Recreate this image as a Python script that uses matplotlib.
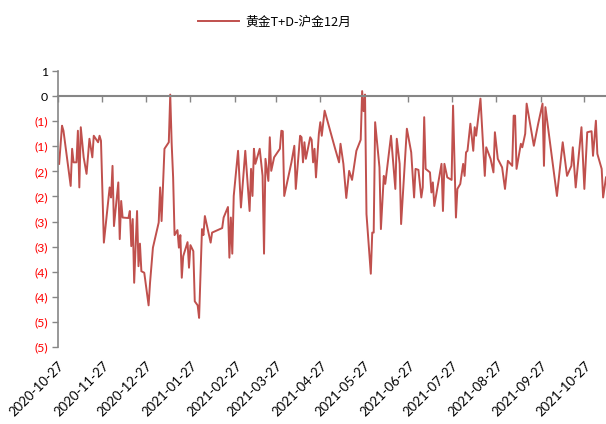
import math
import numpy as np
import pandas as pd
import matplotlib
matplotlib.use('Agg')
import matplotlib.pyplot as plt
import matplotlib.dates as mdates

plt.rcParams['font.family'] = ['Lato', 'Noto Sans CJK SC', 'DejaVu Sans']

# spread series: days since 2020-10-27 and value (yuan/g)
start = pd.Timestamp('2020-10-27')
end = pd.Timestamp('2021-11-11')
day_offset = [1, 3, 4, 9, 10, 11, 13, 14, 15, 16, 18, 20, 22, 24, 25, 28, 29, 30, 32, 36,
              37, 38, 39, 42, 43, 44, 45, 49, 50, 51, 52, 53, 55, 56, 57, 58, 60, 63, 64, 66,
              70, 71, 72, 74, 77, 78, 79, 80, 81, 83, 84, 85, 86, 87, 90, 91, 92, 94, 95, 97,
              98, 100, 101, 102, 106, 107, 114, 115, 118, 119, 120, 121, 122, 125, 127, 130, 133, 134, 135, 136,
              137, 140, 142, 143, 144, 146, 147, 148, 150, 154, 155, 156, 157, 162, 164, 165, 168, 169, 170, 171,
              172, 175, 176, 177, 178, 179, 181, 182, 183, 185, 192, 195, 196, 198, 200, 202, 204, 207, 210, 211,
              212, 213, 214, 217, 218, 219, 220, 223, 224, 226, 227, 231, 234, 235, 237, 238, 242, 245, 247, 248,
              250, 252, 253, 254, 255, 258, 259, 260, 261, 266, 267, 268, 270, 273, 274, 276, 277, 279, 281, 282,
              283, 284, 286, 288, 289, 290, 293, 296, 297, 300, 302, 303, 305, 308, 310, 312, 315, 316, 317, 318,
              321, 322, 324, 325, 330, 333, 336, 337, 338, 346, 350, 353, 356, 357, 359, 363, 365, 367, 370, 371,
              373, 374, 377, 378, 380]
spread = [-1.35, -0.59, -0.69, -1.79, -1.05, -1.32, -1.32, -0.69, -1.82, -0.62, -1.22, -1.55, -0.85, -1.22, -0.79, -0.92, -0.79, -0.89, -2.92, -1.82,
          -2.02, -1.39, -2.59, -1.72, -2.85, -2.09, -2.42, -2.43, -2.29, -2.99, -2.45, -3.72, -2.29, -3.39, -2.94, -3.49, -3.52, -4.17, -3.72, -3.02,
          -2.52, -1.82, -2.49, -1.05, -0.92, 0.03, -0.95, -1.62, -2.77, -2.67, -3.02, -2.77, -3.62, -3.19, -2.91, -3.42, -2.97, -3.09, -4.09, -4.17,
          -4.42, -2.65, -2.77, -2.39, -2.92, -2.72, -2.63, -2.42, -2.21, -3.22, -2.42, -3.14, -1.99, -1.09, -2.22, -1.09, -2.29, -1.45, -1.99, -1.05,
          -1.35, -1.05, -1.59, -3.14, -1.25, -1.69, -0.82, -1.49, -1.22, -1.05, -0.69, -0.70, -1.99, -1.32, -0.99, -1.85, -0.79, -0.82, -1.32, -0.92,
          -1.25, -0.82, -0.87, -1.32, -1.05, -1.62, -0.75, -0.52, -0.79, -0.29, -1.02, -1.32, -0.95, -1.35, -2.03, -1.49, -1.67, -1.09, -0.87, 0.10,
          -0.30, 0.03, -2.35, -3.54, -2.72, -2.72, -0.52, -1.42, -2.65, -1.59, -1.75, -0.79, -1.85, -0.85, -1.35, -2.55, -0.65, -1.12, -2.02, -1.45,
          -1.47, -2.02, -1.82, -0.42, -1.45, -1.52, -1.92, -1.72, -2.19, -1.35, -2.29, -1.35, -1.62, -1.67, -0.19, -2.42, -1.85, -1.75, -1.35, -1.59,
          -1.12, -1.09, -0.55, -1.09, -0.62, -0.79, -0.05, -1.59, -1.02, -1.25, -1.52, -0.72, -1.25, -1.42, -1.85, -1.29, -1.39, -0.39, -0.39, -1.45,
          -0.95, -1.02, -0.75, -0.15, -0.99, -0.55, -0.15, -1.39, -0.22, -1.99, -0.92, -1.59, -1.39, -1.02, -1.82, -0.62, -1.85, -0.72, -0.70, -1.19,
          -0.49, -1.15, -1.45, -2.02, -1.62]
tick_dates = pd.date_range('2020-10-01', periods=13, freq='MS') + pd.Timedelta(days=26)
y_ticks = np.arange(-5, 0.51, 0.5)

dates = start + pd.to_timedelta(day_offset, unit='D')


def excel_label(v):
    n = math.floor(abs(v) + 0.5)
    return '(%d)' % n if v < 0 else '%d' % n


fig = plt.figure(figsize=(6.06, 4.24), dpi=100)
ax = fig.add_axes([0.0952, 0.1816, 0.9048, 0.6509])

ax.plot(dates, spread, color='#C0504D', lw=1.4, label='黄金T+D-沪金12月')

# y axis in Excel style
ax.set_yticks(y_ticks)
ax.set_yticklabels([excel_label(v) for v in y_ticks], fontsize=8.8)
for lab, v in zip(ax.get_yticklabels(), y_ticks):
    lab.set_color('red' if v < 0 else 'black')
ax.tick_params(axis='y', direction='out', length=4, width=1, color='#868686', pad=3)

# horizontal axis line sits at zero, labels stay at the bottom
ax.spines['top'].set_visible(False)
ax.spines['right'].set_visible(False)
ax.spines['left'].set_color('#868686')
ax.spines['left'].set_linewidth(1.2)
ax.spines['bottom'].set_position(('data', 0))
ax.spines['bottom'].set_color('#868686')
ax.spines['bottom'].set_linewidth(1.5)
ax.set_xticks(tick_dates)
ax.tick_params(axis='x', direction='out', length=4, width=1, color='#868686', labelbottom=False)

sec = ax.secondary_xaxis('bottom')
sec.set_xticks(tick_dates)
sec.xaxis.set_major_formatter(mdates.DateFormatter('%Y-%m-%d'))
sec.tick_params(length=0, pad=9, labelsize=9.5)
sec.spines['bottom'].set_visible(False)
for lab in sec.get_xticklabels():
    lab.set_rotation(45)
    lab.set_ha('right')
    lab.set_rotation_mode('anchor')

ax.set_ylim(-5, 0.5)
ax.set_xlim(start, end)

fig.legend(loc='upper center', bbox_to_anchor=(0.453, 0.99), frameon=False,
           prop={'family': ['Noto Sans CJK SC', 'DejaVu Sans'], 'size': 9.2},
           handlelength=3.2, handletextpad=0.5)

fig.savefig('out.png', dpi=100)
